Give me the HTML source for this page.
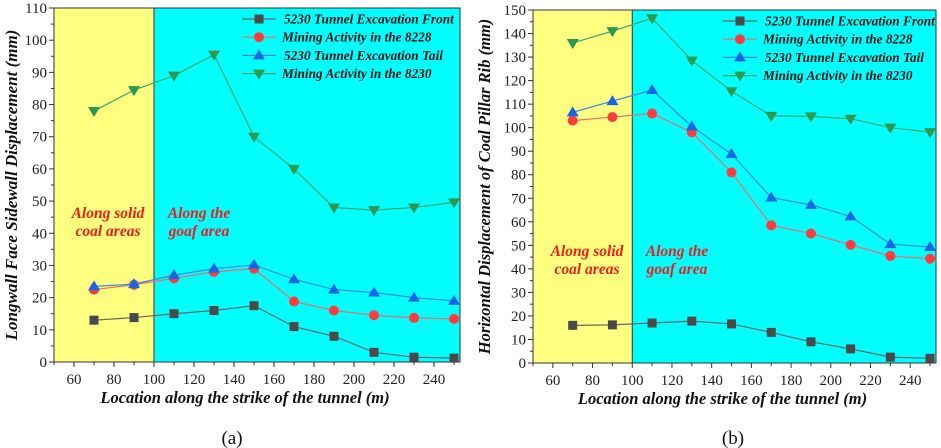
<!DOCTYPE html>
<html><head><meta charset="utf-8"><style>
body{margin:0;background:#fff}
svg{display:block;font-family:"Liberation Serif",serif}
</style></head><body>
<svg id="svg" width="941" height="448" viewBox="0 0 941 448"></svg>
<script>
const xCats=[70,90,110,130,150,170,190,210,230,250];
const xTicks=[60,80,100,120,140,160,180,200,220,240];
const seriesNames=["5230 Tunnel Excavation Front","Mining Activity in the 8228","5230 Tunnel Excavation Tail","Mining Activity in the 8230"];
const aFront=[13,13.8,15,16,17.5,11,8,3,1.5,1.2];
const a8228=[22.5,24,26,28,29,18.8,16,14.5,13.7,13.4];
const aTail=[23.5,24.2,27,29,30.2,25.7,22.5,21.6,20,19];
const a8230=[78,84.5,89,95.5,70,60,48,47.2,48,49.6];
const aYTicks=[0,10,20,30,40,50,60,70,80,90,100,110];
const bFront=[16,16.2,17,17.8,16.6,13,9,6,2.5,2];
const b8228=[103,104.5,106,98,81,58.5,55,50.2,45.5,44.3];
const bTail=[106.5,111.3,116,100.5,88.8,70.3,67.2,62.3,50.5,49.3];
const b8230=[136,141,146.5,128.5,115.5,105,104.8,103.8,100,98.1];
const bYTicks=[0,10,20,30,40,50,60,70,80,90,100,110,120,130,140,150];

const NS="http://www.w3.org/2000/svg";
const svg=document.getElementById('svg');
function mk(tag,attrs,parent,text){const e=document.createElementNS(NS,tag);for(const k in attrs)e.setAttribute(k,attrs[k]);if(text!==undefined)e.textContent=text;(parent||svg).appendChild(e);return e;}
const styles=[{line:"#666",fill:"#4a4a4a",m:"sq"},{line:"#f06a6a",fill:"#ff3b3b",m:"ci"},{line:"#3a86e8",fill:"#1766e6",m:"up"},{line:"#3aa86a",fill:"#2a9a50",m:"dn"}];
function marker(g,m,x,y,f){
  let e;
  if(m==="sq")e=mk('rect',{x:x-4.5,y:y-4.5,width:9,height:9,fill:f},g);
  else if(m==="ci")e=mk('circle',{cx:x,cy:y,r:5,fill:f},g);
  else if(m==="up")e=mk('polygon',{points:`${x},${y-6} ${x-6},${y+4} ${x+6},${y+4}`,fill:f},g);
  else e=mk('polygon',{points:`${x},${y+6} ${x-6},${y-4} ${x+6},${y-4}`,fill:f},g);
  return e;
}
function chart(p){
  const g=mk('g',{},svg);
  const X=v=>p.L+(v-50)*(p.R-p.L)/203;
  const Y=v=>p.B-(v)*(p.B-p.T)/p.ymax;
  const bg1=mk('rect',{x:p.L,y:p.T,width:X(100)-p.L,height:p.B-p.T,fill:"#ffff80"},g);
  
  const bg2=mk('rect',{x:X(100),y:p.T,width:p.R-X(100),height:p.B-p.T,fill:"#00ffff"},g);
  
  mk('line',{x1:X(100),y1:p.T,x2:X(100),y2:p.B,stroke:"#333","stroke-width":1},g);
  mk('rect',{x:p.L,y:p.T,width:p.R-p.L,height:p.B-p.T,fill:"none",stroke:"#333","stroke-width":1},g);
  p.yt.forEach(v=>{const y=Y(v);mk('line',{x1:p.L-5,y1:y,x2:p.L,y2:y,stroke:"#333"},g);
    const t=mk('text',{x:p.L-7,y:y+5,"text-anchor":"end","font-size":15,fill:"#222"},g,v);
    
    if(v<p.ymax){const ym=Y(v+5);mk('line',{x1:p.L-3,y1:ym,x2:p.L,y2:ym,stroke:"#333"},g);}});
  xTicks.forEach(v=>{const x=X(v);mk('line',{x1:x,y1:p.B,x2:x,y2:p.B+5,stroke:"#333"},g);
    mk('line',{x1:x-20*(p.R-p.L)/203/2,y1:p.B,x2:x-20*(p.R-p.L)/203/2,y2:p.B+3,stroke:"#333"},g);
    const t=mk('text',{x:x,y:p.B+22,"text-anchor":"middle","font-size":15,fill:"#222"},g,v);
    });
  mk('line',{x1:X(250),y1:p.B,x2:X(250),y2:p.B+3,stroke:"#333"},g);
  p.data.forEach((d,i)=>{const s=styles[i];
    const sg=mk('g',{},g);
    mk('polyline',{points:d.map((v,j)=>X(xCats[j])+','+Y(v)).join(' '),fill:"none",stroke:s.line,"stroke-width":1.2},sg);
    d.forEach((v,j)=>{const m=marker(sg,s.m,X(xCats[j]),Y(v),s.fill);
      });});
  const lg=mk('g',{},g);
  seriesNames.forEach((n,i)=>{const y=p.lgY+i*18.2,s=styles[i];
    const e=mk('g',{},lg);
    mk('line',{x1:p.lgX,y1:y,x2:p.lgX+34,y2:y,stroke:s.line,"stroke-width":1.2},e);
    marker(e,s.m,p.lgX+17,y,s.fill);
    mk('text',{x:p.lgX+(i===0||i===2?42:40),y:y+4.5,"font-size":13.3,"font-weight":"bold","font-style":"italic",fill:"#111"},e,n);});
  const z1=mk('text',{x:p.z1,y:p.zy,"text-anchor":"middle","font-size":15.5,"font-weight":"bold","font-style":"italic",fill:"#f01c1c"},g);
  
  mk('tspan',{x:p.z1},z1,"Along solid");mk('tspan',{x:p.z1,dy:18},z1,"coal areas");
  const z2=mk('text',{x:p.z2,y:p.zy,"text-anchor":"middle","font-size":15.5,"font-weight":"bold","font-style":"italic",fill:"#f01c1c"},g);
  
  mk('tspan',{x:p.z2},z2,"Along the");mk('tspan',{x:p.z2,dy:18},z2,"goaf area");
  const xt=mk('text',{x:(p.L+p.R)/2-12,y:p.B+41,"text-anchor":"middle","font-size":16.5,"font-weight":"bold","font-style":"italic",fill:"#111"},g,"Location along the strike of the tunnel (m)");
  
  const yt=mk('text',{x:0,y:0,transform:`translate(${p.ytx},${(p.T+p.B)/2}) rotate(-90)`,"text-anchor":"middle","font-size":p.ytfs,"font-weight":"bold","font-style":"italic",fill:"#111"},g,p.ytitle);
  
  const cap=mk('text',{x:p.capX,y:444,"text-anchor":"middle","font-size":19,fill:"#111"},g,p.cap);
  
}
chart({name:'chart-a',L:54,R:460,T:8,B:362,ymax:110,yt:aYTicks,data:[aFront,a8228,aTail,a8230],lgX:242,lgY:19,z1:108,z2:199,zy:218,ytx:17,ytfs:17,ytitle:"Longwall Face Sidewall Displacement (mm)",cap:"(a)",capX:232});
chart({name:'chart-b',L:533,R:936,T:10,B:363,ymax:150,yt:bYTicks,data:[bFront,b8228,bTail,b8230],lgX:723,lgY:21,z1:587,z2:677,zy:256,ytx:490,ytfs:16.5,ytitle:"Horizontal Displacement of Coal Pillar Rib (mm)",cap:"(b)",capX:733});
</script>
</body></html>
